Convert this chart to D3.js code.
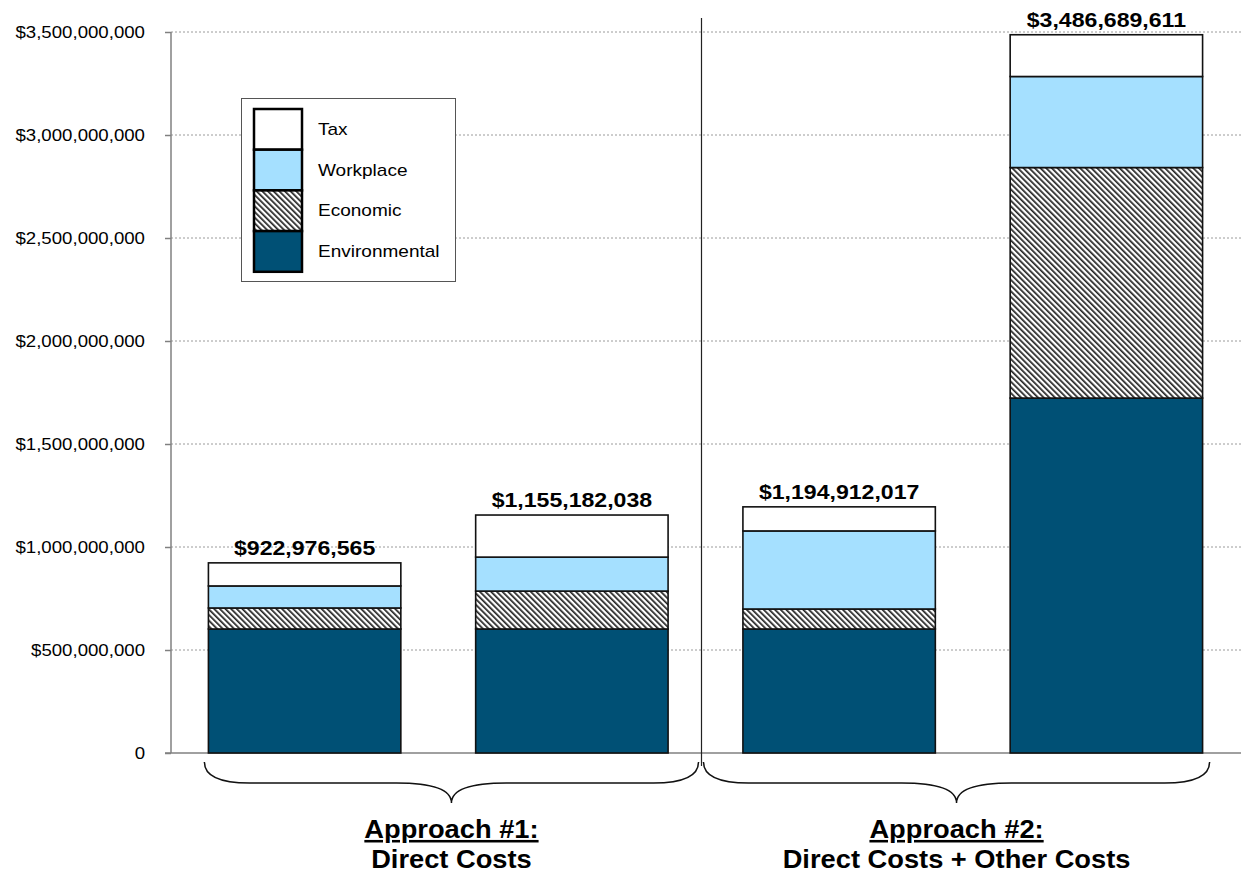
<!DOCTYPE html>
<html>
<head>
<meta charset="utf-8">
<script src="https://cdn.jsdelivr.net/npm/d3@7/dist/d3.min.js"></script>
<style>
  html, body { margin: 0; padding: 0; background: #fff; }
  text { font-family: Arial, "Liberation Sans", sans-serif; }
</style>
</head>
<body>
<svg id="chart" width="1241" height="875"></svg>
<script>
(function () {
// ---- data ----
const categories = ["A1-1", "A1-2", "A2-1", "A2-2"];
const seriesNames = ["Environmental", "Economic", "Workplace", "Tax"];
const environmental = [602e6, 602e6, 602e6, 1723e6];
const economic      = [102e6, 184e6, 97e6, 1119e6];
const workplace     = [107e6, 165e6, 379e6, 442e6];
const tax           = [112.0e6, 204.2e6, 116.9e6, 202.7e6];
const totalLabels   = ["$922,976,565", "$1,155,182,038", "$1,194,912,017", "$3,486,689,611"];
const yTicks = [0, 500e6, 1000e6, 1500e6, 2000e6, 2500e6, 3000e6, 3500e6];
const groups = [
  { title: "Approach #1:", subtitle: "Direct Costs", cats: ["A1-1", "A1-2"] },
  { title: "Approach #2:", subtitle: "Direct Costs + Other Costs", cats: ["A2-1", "A2-2"] }
];
window.chartData = { categories, seriesNames, environmental, economic, workplace, tax, totalLabels, yTicks };

// ---- layout ----
const svg = d3.select("#chart");
const mLeft = 171, mRight = 1240, mTop = 32, mBottom = 753;

const x = d3.scaleBand().domain(categories).range([mLeft, mRight]).paddingInner(0.28).paddingOuter(0.14);
const y = d3.scaleLinear().domain([0, 3500e6]).range([mBottom, mTop]);

const colors = { Environmental: "#005075", Economic: "url(#hatch)", Workplace: "#a5e0ff", Tax: "#ffffff" };

// widen text horizontally (reference glyphs are slightly stretched)
function stretch(sel, sx) {
  sel.each(function () {
    const t = d3.select(this);
    const tx = +t.attr("x") || 0, ty = +t.attr("y") || 0;
    t.attr("x", 0).attr("y", 0).attr("transform", `translate(${tx},${ty}) scale(${sx},1)`);
  });
}

// hatch pattern
const defs = svg.append("defs");
const pat = defs.append("pattern").attr("id", "hatch").attr("patternUnits", "userSpaceOnUse")
  .attr("width", 4).attr("height", 4).attr("patternTransform", "rotate(-45)");
pat.append("rect").attr("width", 4).attr("height", 4).attr("fill", "#ffffff");
pat.append("rect").attr("x", 0).attr("width", 1.7).attr("height", 4).attr("fill", "#222");

// gridlines
svg.append("g").selectAll("line").data(yTicks.filter(d => d > 0)).join("line")
  .attr("x1", mLeft).attr("x2", 1241)
  .attr("y1", d => y(d)).attr("y2", d => y(d))
  .attr("stroke", "#9a9a9a").attr("stroke-width", 1).attr("stroke-dasharray", "2,2");

// y axis
const yAxis = d3.axisLeft(y).tickValues(yTicks).tickSize(6).tickPadding(20)
  .tickFormat(d => d === 0 ? "0" : "$" + d3.format(",")(d));
const gy = svg.append("g").attr("transform", `translate(${mLeft},0)`).call(yAxis);
gy.select(".domain").attr("stroke", "#808080").attr("stroke-width", 1.5).attr("d", `M0,${mTop}V${mBottom}`);
gy.selectAll(".tick line").attr("stroke", "#808080").attr("stroke-width", 1.5);
const ySx = 1.13;
gy.selectAll(".tick text").attr("font-size", 16.5).attr("fill", "#000")
  .style("font-family", "Arial, 'Liberation Sans', sans-serif")
  .attr("x", -26 / ySx).attr("transform", `scale(${ySx},1)`);

// x axis baseline
svg.append("line").attr("x1", mLeft - 6).attr("x2", 1241).attr("y1", mBottom).attr("y2", mBottom)
  .attr("stroke", "#808080").attr("stroke-width", 1.5);

// stacked data
const rows = categories.map((c, i) => ({
  cat: c, Environmental: environmental[i], Economic: economic[i], Workplace: workplace[i], Tax: tax[i]
}));
const stacked = d3.stack().keys(seriesNames)(rows);

svg.append("g").selectAll("g").data(stacked).join("g")
  .attr("fill", d => colors[d.key])
  .selectAll("rect").data(d => d).join("rect")
  .attr("x", d => x(d.data.cat))
  .attr("width", x.bandwidth())
  .attr("y", d => y(d[1]))
  .attr("height", d => y(d[0]) - y(d[1]))
  .attr("stroke", "#111").attr("stroke-width", 1.6);

// total labels
const totals = svg.append("g").selectAll("text").data(stacked[stacked.length - 1]).join("text")
  .attr("x", d => x(d.data.cat) + x.bandwidth() / 2)
  .attr("y", d => y(d[1]) - 8)
  .attr("text-anchor", "middle").attr("font-weight", "bold").attr("font-size", 21)
  .attr("fill", "#000")
  .text((d, i) => totalLabels[i]);
stretch(totals, 1.1);

// divider between approaches
const divX = (x("A1-2") + x.bandwidth() + x("A2-1")) / 2 - 4;
svg.append("line").attr("x1", divX).attr("x2", divX).attr("y1", 18).attr("y2", 766)
  .attr("stroke", "#222").attr("stroke-width", 1.2);

// braces
function brace(x0, x1, tip) {
  const y0 = 762, ym = 783, y1 = 803;
  return `M${x0},${y0} Q${x0},${ym} ${x0 + 45},${ym} L${tip - 55},${ym} Q${tip},${ym} ${tip},${y1}` +
         ` Q${tip},${ym} ${tip + 55},${ym} L${x1 - 45},${ym} Q${x1},${ym} ${x1},${y0}`;
}
const braceSpans = [
  [x("A1-1") - 4, divX - 3],
  [divX + 2, x("A2-2") + x.bandwidth() + 7]
];
groups.forEach((g, i) => {
  const [x0, x1] = braceSpans[i];
  const tip = (x0 + x1) / 2;
  svg.append("path").attr("d", brace(x0, x1, tip)).attr("fill", "none")
    .attr("stroke", "#111").attr("stroke-width", 1.5);
  const t1 = svg.append("text").attr("x", tip).attr("y", 838).attr("text-anchor", "middle")
    .attr("font-weight", "bold").attr("font-size", 25.5).attr("fill", "#000")
    .style("text-decoration", "underline")
    .text(g.title);
  const t2 = svg.append("text").attr("x", tip).attr("y", 868).attr("text-anchor", "middle")
    .attr("font-weight", "bold").attr("font-size", 25.5).attr("fill", "#000")
    .text(g.subtitle);
  stretch(t1, 1.07);
  stretch(t2, 1.07);
});

// legend
const legend = svg.append("g");
legend.append("rect").attr("x", 241.5).attr("y", 98.5).attr("width", 214).attr("height", 183)
  .attr("fill", "#fff").attr("stroke", "#555").attr("stroke-width", 1);
const legendOrder = ["Tax", "Workplace", "Economic", "Environmental"];
const lg = legend.selectAll("g").data(legendOrder).join("g")
  .attr("transform", (d, i) => `translate(0,${109 + i * 40.7})`);
lg.append("rect").attr("x", 254).attr("y", 0).attr("width", 48).attr("height", 40.7)
  .attr("fill", d => colors[d]).attr("stroke", "#000").attr("stroke-width", 2.5);
const lt = lg.append("text").attr("x", 318).attr("y", 26).attr("font-size", 17).attr("fill", "#000").text(d => d);
stretch(lt, 1.12);
})();
</script>
</body>
</html>
